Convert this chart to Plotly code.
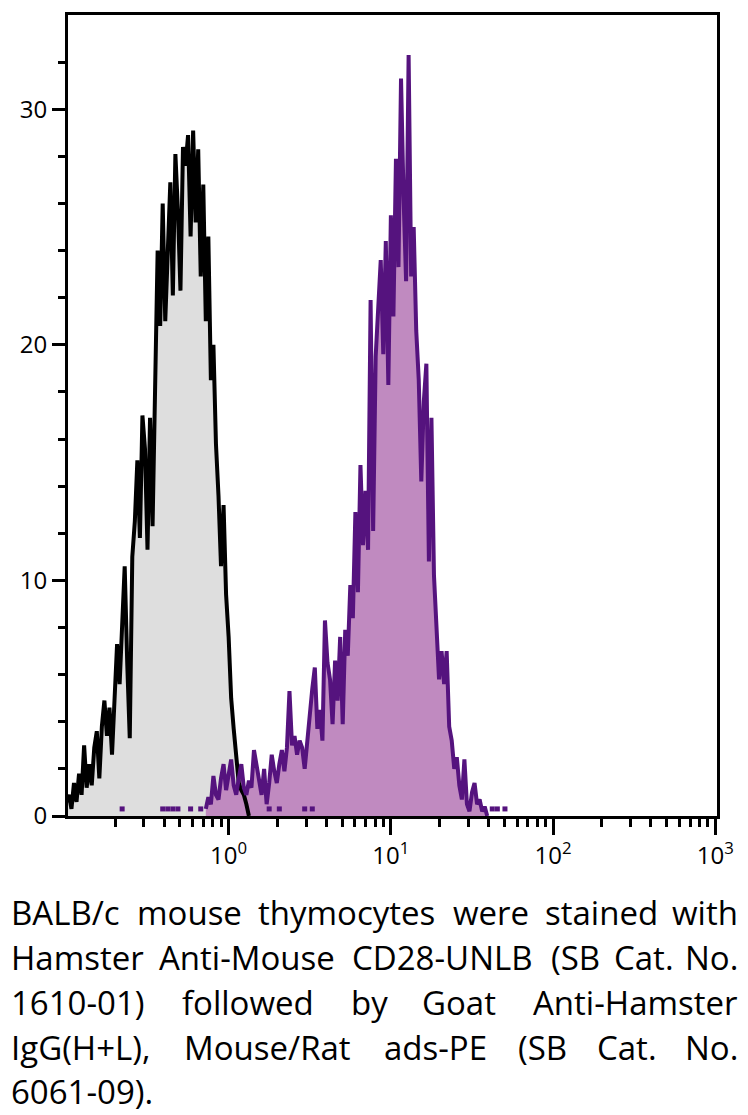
import plotly.graph_objects as go

# ---------------- data ----------------
CHANNELS_PER_DECADE = 64      # histogram resolution
LOG_MIN = -1                  # channel 0 sits at 10^-1

BLACK_START = 0
black_counts = [
    0.6, 0.9, 0.3, 1.4, 0.6, 1.8, 0.9, 3.0, 1.2, 2.2,
    1.3, 2.9, 3.6, 1.6, 3.8, 4.9, 3.4, 4.6, 2.6, 5.2,
    7.3, 5.6, 7.7, 10.6, 6.5, 3.3, 11.0, 12.5, 15.1, 11.8,
    17.0, 15.6, 11.3, 16.9, 12.3, 18.5, 24.0, 20.8, 26.0, 21.0,
    23.7, 26.9, 22.1, 28.1, 25.7, 22.3, 28.4, 27.6, 28.9, 24.6,
    29.1, 25.2, 28.3, 22.9, 26.8, 21.0, 24.6, 18.5, 20.0, 15.8,
    13.6, 10.6, 13.2, 9.4, 7.6, 5.0, 3.7, 2.4, 1.4, 1.1,
    0.9, 0.5, 0.0,
]

PURPLE_START = 55
purple_counts = [
    0.3, 0.8, 0.5, 1.7, 0.9, 0.7, 1.6, 2.2, 1.1, 1.8,
    2.4, 1.3, 0.9, 1.6, 2.2, 1.2, 0.9, 1.5, 1.2, 2.8,
    2.2, 1.7, 0.9, 2.0, 0.5, 1.4, 2.6, 1.9, 1.4, 2.2,
    2.8, 1.9, 2.9, 5.3, 3.0, 3.4, 2.6, 3.2, 2.9, 2.0,
    3.3, 4.1, 5.4, 6.3, 3.7, 4.5, 3.2, 8.3, 6.5, 5.8,
    3.9, 6.6, 4.9, 7.6, 3.9, 7.9, 6.8, 9.8, 8.4, 12.9,
    9.5, 14.9, 11.5, 13.8, 11.3, 21.9, 12.1, 19.5, 21.9, 23.6,
    19.6, 24.4, 18.3, 25.5, 21.2, 27.9, 23.3, 31.3, 26.3, 22.7,
    32.3, 22.9, 25.0, 20.6, 18.5, 14.2, 17.6, 19.2, 10.8, 16.9,
    10.2, 8.1, 5.8, 7.0, 5.6, 7.0, 3.8, 3.2, 2.0, 2.5,
    1.3, 0.7, 2.4, 0.5, 0.2, 1.0, 1.4, 0.5, 0.7, 0.2,
    0.4, 0.0,
]

# isolated single-event channels of the stained sample
stub_channels = [22, 38, 40, 42, 44, 49, 53, 80, 84, 94, 97, 168, 170, 173]
stub_counts = [0.3, 0.3, 0.3, 0.3, 0.3, 0.3, 0.3, 0.3, 0.3, 0.3, 0.3, 0.3, 0.3, 0.3]

X_TICK_VALUES = [1, 10, 100, 1000]
X_TICK_LABELS = ["10<sup>0</sup>", "10<sup>1</sup>", "10<sup>2</sup>", "10<sup>3</sup>"]
X_MINOR_TICKS = [0.2, 0.3, 0.4, 0.5, 0.6, 0.7, 0.8, 0.9,
                 2, 3, 4, 5, 6, 7, 8, 9,
                 20, 30, 40, 50, 60, 70, 80, 90,
                 200, 300, 400, 500, 600, 700, 800, 900]
Y_TICK_VALUES = [0, 10, 20, 30]
Y_TICK_LABELS = ["0", "10", "20", "30"]
Y_MINOR_TICKS = [2, 4, 6, 8, 12, 14, 16, 18, 22, 24, 26, 28, 32]

CAPTION_LINES = [
    "BALB/c mouse thymocytes were stained with",
    "Hamster Anti-Mouse CD28-UNLB (SB Cat. No.",
    "1610-01) followed by Goat Anti-Hamster",
    "IgG(H+L), Mouse/Rat ads-PE (SB Cat. No.",
    "6061-09).",
]

# ---------------- styling ----------------
FONT = "Open Sans"
GREY_FILL = "#dedede"
PURPLE_FILL = "#c08ac0"
PURPLE_LINE = "#55137e"

W, H = 748, 1115
ML, MR, MT, MB = 68, 31, 15, 299
PW, PH = W - ML - MR, H - MT - MB


def ch2x(ch):
    return 10 ** (LOG_MIN + ch / CHANNELS_PER_DECADE)


bx = [ch2x(BLACK_START + k) for k in range(len(black_counts))]
px = [ch2x(PURPLE_START + k) for k in range(len(purple_counts))]
sx = [ch2x(c) for c in stub_channels]

fig = go.Figure()
fig.add_trace(go.Scatter(x=bx, y=black_counts, mode="lines", fill="tozeroy",
                         fillcolor=GREY_FILL, line=dict(width=0), hoverinfo="skip"))
fig.add_trace(go.Scatter(x=px, y=purple_counts, mode="lines", fill="tozeroy",
                         fillcolor=PURPLE_FILL, line=dict(width=0), hoverinfo="skip"))
fig.add_trace(go.Scatter(x=bx, y=black_counts, mode="lines",
                         line=dict(color="black", width=4)))
fig.add_trace(go.Scatter(x=px, y=purple_counts, mode="lines",
                         line=dict(color=PURPLE_LINE, width=4)))
fig.add_trace(go.Scatter(x=sx, y=stub_counts, mode="markers",
                         marker=dict(symbol="square", size=5, color=PURPLE_LINE,
                                     line=dict(width=0))))

axis_common = dict(showline=True, linewidth=3, linecolor="black", mirror=True,
                   ticks="outside", tickwidth=3, tickcolor="black",
                   showgrid=False, zeroline=False,
                   tickfont=dict(family=FONT, size=24, color="black"))

fig.update_xaxes(type="log", range=[-0.99, 3.01], tickmode="array",
                 tickvals=X_TICK_VALUES, ticktext=X_TICK_LABELS, ticklen=16,
                 minor=dict(tickmode="array", tickvals=X_MINOR_TICKS, ticks="outside",
                            ticklen=8, tickwidth=3, tickcolor="black", showgrid=False),
                 **axis_common)
fig.update_yaxes(range=[0, 34], tickmode="array", tickvals=Y_TICK_VALUES,
                 ticktext=Y_TICK_LABELS, ticklen=13,
                 minor=dict(tickmode="array", tickvals=Y_MINOR_TICKS, ticks="outside",
                            ticklen=7, tickwidth=3, tickcolor="black", showgrid=False),
                 **axis_common)

# ---------------- justified caption ----------------
CAP_SIZE = 33
CHAR_W = {
    'a': .556, 'b': .613, 'c': .476, 'd': .613, 'e': .561, 'f': .339, 'g': .548,
    'h': .614, 'i': .253, 'l': .253, 'm': .93, 'n': .614, 'o': .604, 'r': .408,
    's': .477, 't': .353, 'u': .614, 'w': .776, 'y': .501, 'k': .53, 'p': .613,
    'A': .633, 'B': .648, 'C': .631, 'D': .729, 'E': .556, 'G': .73, 'H': .738,
    'I': .279, 'L': .549, 'M': .903, 'N': .76, 'P': .603, 'R': .619, 'S': .539,
    'T': .553, 'U': .728, '(': .297, ')': .297, '.': .266, ',': .25, '-': .322,
    '/': .367, '+': .572,
}
WIDTH_FUDGE = 1.03


def word_w(wd):
    return sum(CHAR_W.get(ch, .572) for ch in wd) * CAP_SIZE * WIDTH_FUDGE


LEFT, RIGHT = 9, 740
LINE_Y = [912, 957, 1002, 1047, 1091]
annotations = []
for li, line in enumerate(CAPTION_LINES):
    words = line.split(" ")
    ypap = ((MT + PH) - LINE_Y[li]) / PH
    last = li == len(CAPTION_LINES) - 1
    if last or len(words) == 1:
        gap = 0.26 * CAP_SIZE
    else:
        gap = (RIGHT - LEFT - sum(word_w(w) for w in words)) / (len(words) - 1)
    xcur = LEFT
    for wi, wd in enumerate(words):
        if not last and wi == len(words) - 1 and len(words) > 1:
            annotations.append(dict(x=(RIGHT - ML) / PW, y=ypap, xref="paper", yref="paper",
                                    text=wd, showarrow=False, xanchor="right", yanchor="middle",
                                    font=dict(family=FONT, size=CAP_SIZE, color="black")))
        else:
            annotations.append(dict(x=(xcur - ML) / PW, y=ypap, xref="paper", yref="paper",
                                    text=wd, showarrow=False, xanchor="left", yanchor="middle",
                                    font=dict(family=FONT, size=CAP_SIZE, color="black")))
        xcur += word_w(wd) + gap

fig.update_layout(width=W, height=H, margin=dict(l=ML, r=MR, t=MT, b=MB),
                  paper_bgcolor="white", plot_bgcolor="white", showlegend=False,
                  annotations=annotations)

fig.write_html("out.html")
